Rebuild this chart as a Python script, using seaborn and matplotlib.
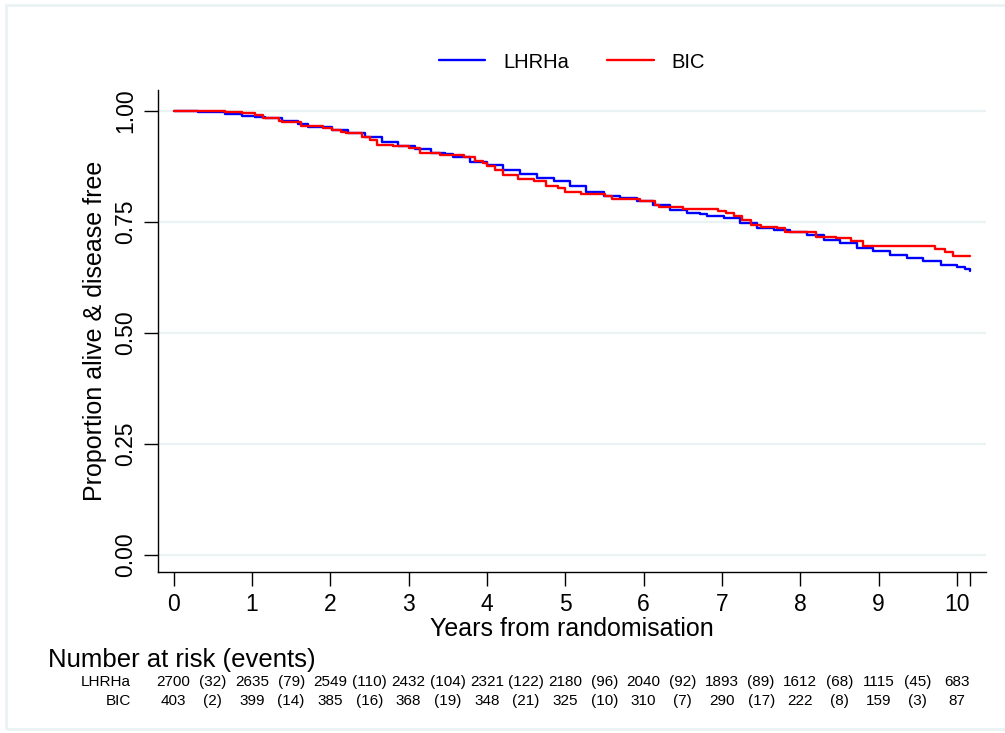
import numpy as np
import pandas as pd
import matplotlib
matplotlib.use("Agg")
import matplotlib.pyplot as plt
import matplotlib.transforms as mtransforms
from matplotlib.patches import Rectangle
import seaborn as sns

# ---------------- data ----------------
groups = ["LHRHa", "BIC"]
lhrha_t = [0, 0.31, 0.65, 0.87, 1.04, 1.17, 1.38, 1.59, 1.72, 2.02, 2.23, 2.44, 2.66, 2.87,
           3.08, 3.29, 3.46, 3.57, 3.78, 4.0, 4.21, 4.42, 4.64, 4.85, 5.06, 5.27, 5.49, 5.7,
           5.91, 6.12, 6.34, 6.55, 6.72, 6.81, 7.02, 7.23, 7.45, 7.66, 7.87, 8.08, 8.3, 8.51,
           8.72, 8.93, 9.15, 9.36, 9.57, 9.79, 10.0, 10.1, 10.17]
lhrha_s = [1.0, 0.9985, 0.993, 0.989, 0.987, 0.983, 0.977, 0.971, 0.963, 0.957, 0.950, 0.941,
           0.929, 0.920, 0.914, 0.906, 0.903, 0.897, 0.886, 0.878, 0.867, 0.858, 0.848, 0.841,
           0.831, 0.818, 0.809, 0.803, 0.798, 0.788, 0.777, 0.771, 0.767, 0.764, 0.758, 0.747,
           0.737, 0.732, 0.727, 0.721, 0.709, 0.702, 0.691, 0.685, 0.676, 0.668, 0.661, 0.653,
           0.649, 0.643, 0.640]
bic_t = [0, 0.65, 0.87, 1.04, 1.14, 1.34, 1.38, 1.63, 1.9, 2.02, 2.14, 2.2, 2.4, 2.5, 2.6,
         2.8, 3.0, 3.15, 3.4, 3.7, 3.85, 3.95, 4.0, 4.1, 4.2, 4.4, 4.6, 4.75, 4.9, 5.0, 5.2,
         5.5, 5.6, 5.95, 6.15, 6.2, 6.5, 6.95, 7.05, 7.15, 7.25, 7.37, 7.5, 7.7, 7.8, 8.2,
         8.45, 8.65, 8.8, 9.72, 9.85, 9.95, 10.17]
bic_s = [1.0, 0.998, 0.996, 0.991, 0.983, 0.977, 0.975, 0.966, 0.961, 0.957, 0.952, 0.950,
         0.941, 0.935, 0.923, 0.921, 0.916, 0.906, 0.901, 0.896, 0.888, 0.883, 0.875, 0.867,
         0.856, 0.846, 0.841, 0.831, 0.826, 0.818, 0.813, 0.809, 0.801, 0.797, 0.788, 0.784,
         0.779, 0.775, 0.770, 0.764, 0.755, 0.743, 0.739, 0.736, 0.728, 0.717, 0.713, 0.706,
         0.696, 0.689, 0.682, 0.674, 0.674]

risk_times = [0, 1, 2, 3, 4, 5, 6, 7, 8, 9, 10]
lhrha_risk = [2700, 2635, 2549, 2432, 2321, 2180, 2040, 1893, 1612, 1115, 683]
lhrha_events = [32, 79, 110, 104, 122, 96, 92, 89, 68, 45]
bic_risk = [403, 399, 385, 368, 348, 325, 310, 290, 222, 159, 87]
bic_events = [2, 14, 16, 19, 21, 10, 7, 17, 8, 3]

y_ticks = [0.00, 0.25, 0.50, 0.75, 1.00]
x_ticks = [0, 1, 2, 3, 4, 5, 6, 7, 8, 9, 10]

df = pd.concat([
    pd.DataFrame({"time": lhrha_t, "surv": lhrha_s, "group": "LHRHa"}),
    pd.DataFrame({"time": bic_t, "surv": bic_s, "group": "BIC"}),
], ignore_index=True)

# ---------------- style ----------------
sns.set_theme(style="white")
plt.rcParams["font.family"] = ["Liberation Sans", "DejaVu Sans"]
for k in ["text.color", "axes.labelcolor", "xtick.color", "ytick.color"]:
    plt.rcParams[k] = "black"
grid_col = "#EAF2F3"

W, H = 1005, 733
fig = plt.figure(figsize=(W / 100, H / 100), dpi=100)
fig.patch.set_facecolor("white")

# outer frame
fig.add_artist(Rectangle((6 / W, 4 / H), 1.2, 1 - 9 / H, transform=fig.transFigure,
                         fill=False, edgecolor=grid_col, lw=2))

ax_l, ax_r, ax_b, ax_t = 158, 986, 572, 90
ax = fig.add_axes([ax_l / W, 1 - ax_b / H, (ax_r - ax_l) / W, (ax_b - ax_t) / H])
ax.set_facecolor("white")

for yt in y_ticks:
    ax.axhline(yt, color=grid_col, lw=1.6, zorder=0)

palette = {"LHRHa": "#0000FF", "BIC": "#FF0000"}
sns.lineplot(data=df, x="time", y="surv", hue="group", hue_order=groups, palette=palette,
             estimator=None, sort=True, drawstyle="steps-post", lw=1.7, ax=ax, legend=False)

ax.set_xlim(-0.2, 10.37)
ax.set_ylim(-0.0383, 1.047)

for s in ["top", "right"]:
    ax.spines[s].set_visible(False)
for s in ["left", "bottom"]:
    ax.spines[s].set_color("black")
    ax.spines[s].set_linewidth(1.0)

ax.set_xticks(x_ticks)
ax.set_xticklabels([str(v) for v in x_ticks])
ax.set_xticks([10.17], minor=True)
ax.set_yticks(y_ticks)
ax.set_yticklabels([f"{v:.2f}" for v in y_ticks], rotation=90, va="center")
ax.tick_params(axis="both", which="both", direction="out", length=10, width=1.0,
               color="black", labelsize=16.5, bottom=True, left=True)
ax.tick_params(axis="x", pad=5)
ax.tick_params(axis="y", pad=5)

ax.set_xlabel("Years from randomisation", fontsize=18, va="center")
ax.set_ylabel("Proportion alive & disease free", fontsize=18)
ax.xaxis.set_label_coords(0.5, -0.119)
ax.yaxis.set_label_coords(-0.062, 0.5)

# legend
handles = [plt.Line2D([], [], color=palette[g], lw=1.7) for g in groups]
fig.legend(handles, groups, loc="center", bbox_to_anchor=(572 / W, 1 - 62 / H), ncol=2,
           frameon=False, fontsize=14.5, handlelength=2.3, handletextpad=0.9,
           columnspacing=1.9)

# number at risk table
trans = mtransforms.blended_transform_factory(ax.transData, fig.transFigure)
fig.text(48 / W, 1 - 660 / H, "Number at risk (events)", fontsize=18.5, ha="left", va="center")
tab_font = ["Liberation Sans Narrow", "Liberation Sans", "DejaVu Sans"]
rows = [("LHRHa", lhrha_risk, lhrha_events, 682), ("BIC", bic_risk, bic_events, 701)]
for name, risk, ev, ypx in rows:
    yf = 1 - ypx / H
    fig.text(131 / W, yf, name, fontsize=11, ha="right", va="center", family=tab_font)
    for t, n in zip(risk_times, risk):
        ax.text(t, yf, str(n), transform=trans, fontsize=11, ha="center", va="center",
                family=tab_font, clip_on=False)
    for t, e in zip(risk_times[:-1], ev):
        ax.text(t + 0.5, yf, f"({e})", transform=trans, fontsize=11, ha="center",
                va="center", family=tab_font, clip_on=False)

fig.savefig("out.png", dpi=100, facecolor="white")
